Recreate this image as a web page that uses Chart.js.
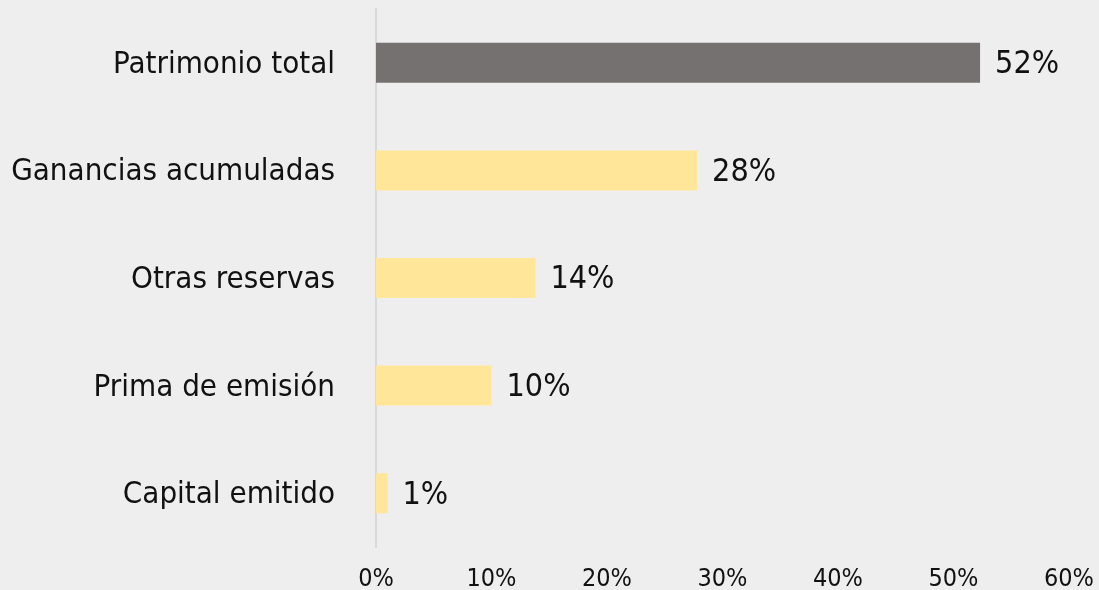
<!DOCTYPE html>
<html>
<head>
<meta charset="utf-8">
<script src="https://cdn.jsdelivr.net/npm/chart.js@4"></script>
<style>
  html, body { margin: 0; padding: 0; background: #eeeeee; }
  canvas { display: block; }
</style>
</head>
<body>
<canvas id="chart" width="1099" height="590"></canvas>
<script>
// Categorías y valores (%)
const categories = ['Patrimonio total', 'Ganancias acumuladas', 'Otras reservas', 'Prima de emisión', 'Capital emitido'];
const values = [52.3, 27.8, 13.8, 10.0, 1.0];
const barColors = ['#767171', '#FFE699', '#FFE699', '#FFE699', '#FFE699'];
const xTicks = [0, 10, 20, 30, 40, 50, 60];

const FONT = '"DejaVu Sans Condensed", "DejaVu Sans", sans-serif';

// Etiquetas de valor al final de cada barra
const valueLabels = {
    id: 'valueLabels',
    afterDatasetsDraw(chart) {
        const ctx = chart.ctx;
        const meta = chart.getDatasetMeta(0);
        ctx.save();
        ctx.font = '32px ' + FONT;
        ctx.fillStyle = '#111111';
        ctx.textAlign = 'left';
        ctx.textBaseline = 'middle';
        meta.data.forEach((bar, i) => {
            ctx.fillText(Math.round(values[i]) + '%', bar.x + 15, bar.y + 2);
        });
        ctx.restore();
    }
};

new Chart(document.getElementById('chart'), {
    type: 'bar',
    data: {
        labels: categories,
        datasets: [{
            data: values,
            backgroundColor: barColors,
            borderWidth: 0,
            barPercentage: 0.372,
            categoryPercentage: 1
        }]
    },
    options: {
        indexAxis: 'y',
        responsive: false,
        animation: false,
        devicePixelRatio: 1,
        layout: { padding: { top: 9, right: 30, bottom: 0, left: 0 } },
        plugins: { legend: { display: false }, tooltip: { enabled: false } },
        scales: {
            x: {
                min: 0,
                max: 60,
                afterBuildTicks: (scale) => { scale.ticks = xTicks.map(v => ({ value: v })); },
                afterFit: (scale) => {
                    scale.height = 43;
                    scale.paddingLeft = 0;
                    scale.paddingRight = 30;
                },
                grid: { display: false },
                border: { display: false },
                ticks: {
                    padding: 9,
                    color: '#111111',
                    font: { family: FONT, size: 25 },
                    callback: (v) => v + '%'
                }
            },
            y: {
                afterFit: (scale) => {
                    scale.width = 376;
                    scale.paddingTop = 0;
                    scale.paddingBottom = 0;
                },
                grid: { display: false },
                border: { display: true, color: '#d9d9d9', width: 2 },
                ticks: {
                    padding: 33,
                    labelOffset: 2,
                    color: '#111111',
                    font: { family: FONT, size: 31 }
                }
            }
        }
    },
    plugins: [valueLabels]
});
</script>
</body>
</html>
